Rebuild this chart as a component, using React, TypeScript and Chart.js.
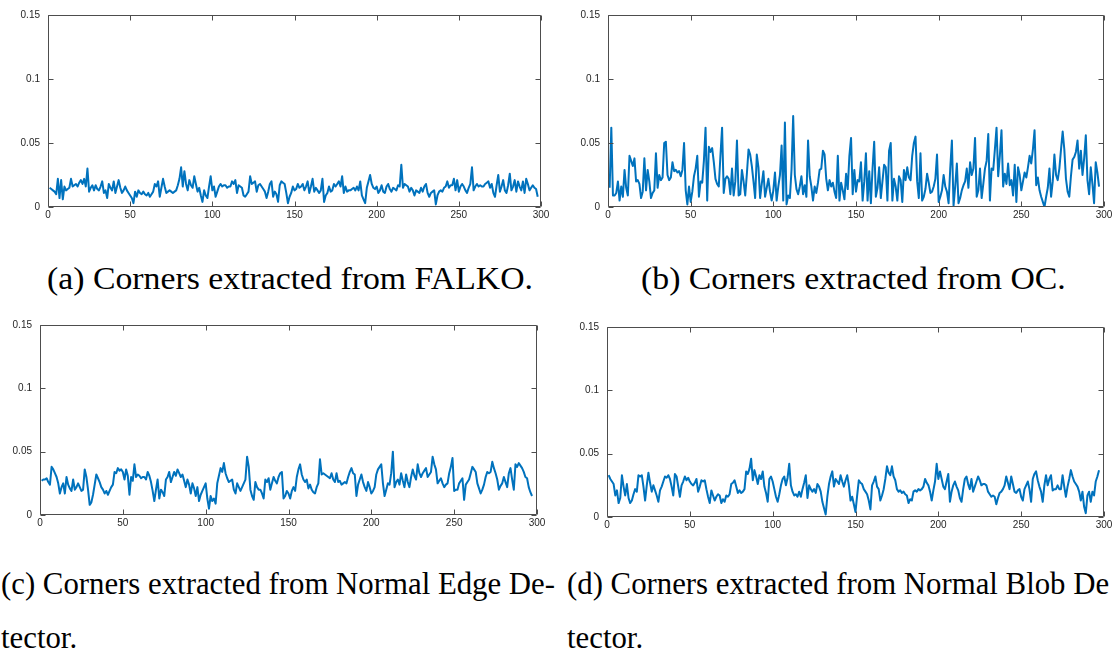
import React, { useEffect, useRef } from 'react';
import { Chart, registerables } from 'chart.js';

Chart.register(...registerables);

// ---------- data ----------
const falkoValues = [
  0.015,0.014,0.013,0.012,0.010,0.022,0.007,0.021,0.006,0.016,
  0.013,0.014,0.015,0.022,0.016,0.017,0.018,0.016,0.019,0.021,
  0.018,0.022,0.016,0.030,0.012,0.015,0.017,0.013,0.017,0.014,
  0.013,0.016,0.020,0.011,0.013,0.007,0.018,0.015,0.013,0.020,
  0.011,0.016,0.021,0.015,0.011,0.013,0.016,0.013,0.011,0.009,
  0.007,0.003,0.012,0.008,0.013,0.011,0.010,0.012,0.010,0.009,
  0.011,0.008,0.010,0.012,0.018,0.016,0.020,0.008,0.015,0.022,
  0.016,0.011,0.012,0.013,0.012,0.011,0.012,0.013,0.017,0.022,
  0.031,0.016,0.028,0.018,0.013,0.021,0.017,0.015,0.024,0.018,
  0.012,0.015,0.009,0.004,0.013,0.009,0.007,0.016,0.024,0.013,
  0.016,0.008,0.012,0.016,0.018,0.016,0.017,0.017,0.015,0.016,
  0.016,0.020,0.018,0.021,0.011,0.017,0.016,0.015,0.009,0.008,
  0.010,0.012,0.024,0.018,0.019,0.020,0.012,0.017,0.018,0.016,
  0.014,0.012,0.007,0.012,0.018,0.020,0.008,0.012,0.010,0.004,
  0.017,0.020,0.019,0.018,0.011,0.003,0.008,0.011,0.016,0.013,
  0.014,0.018,0.015,0.016,0.018,0.013,0.016,0.020,0.011,0.016,
  0.022,0.012,0.015,0.013,0.011,0.013,0.022,0.004,0.009,0.011,
  0.016,0.012,0.013,0.018,0.016,0.018,0.020,0.016,0.024,0.011,
  0.016,0.012,0.013,0.013,0.014,0.015,0.013,0.016,0.013,0.020,
  0.009,0.006,0.003,0.015,0.020,0.025,0.018,0.015,0.014,0.016,
  0.011,0.013,0.017,0.012,0.011,0.016,0.018,0.014,0.012,0.015,
  0.014,0.013,0.017,0.016,0.033,0.015,0.018,0.017,0.016,0.012,
  0.015,0.013,0.009,0.013,0.012,0.011,0.015,0.012,0.016,0.018,
  0.011,0.008,0.011,0.012,0.013,0.002,0.009,0.012,0.013,0.012,
  0.015,0.016,0.020,0.015,0.017,0.017,0.022,0.013,0.021,0.012,
  0.016,0.018,0.016,0.013,0.011,0.015,0.018,0.031,0.013,0.016,
  0.018,0.016,0.017,0.016,0.016,0.018,0.019,0.020,0.015,0.018,
  0.011,0.008,0.017,0.025,0.012,0.016,0.021,0.013,0.011,0.017,
  0.026,0.013,0.016,0.021,0.012,0.020,0.016,0.013,0.020,0.011,
  0.022,0.018,0.013,0.015,0.017,0.015,0.014,0.008,
];

const ocValues = [
  0.015,0.062,0.009,0.009,0.011,0.020,0.005,0.016,0.008,0.029,
  0.015,0.009,0.040,0.036,0.032,0.038,0.020,0.021,0.018,0.007,
  0.012,0.038,0.013,0.029,0.020,0.007,0.011,0.013,0.042,0.015,
  0.025,0.021,0.023,0.050,0.051,0.025,0.021,0.023,0.035,0.028,
  0.029,0.027,0.028,0.024,0.029,0.050,0.013,0.002,0.016,0.004,
  0.012,0.024,0.030,0.040,0.008,0.020,0.019,0.036,0.062,0.005,
  0.047,0.043,0.046,0.035,0.022,0.018,0.016,0.040,0.062,0.011,
  0.022,0.024,0.022,0.010,0.030,0.009,0.020,0.052,0.009,0.010,
  0.029,0.020,0.009,0.026,0.045,0.041,0.032,0.020,0.007,0.041,
  0.031,0.007,0.018,0.028,0.008,0.015,0.022,0.012,0.005,0.013,
  0.027,0.005,0.016,0.025,0.048,0.005,0.066,0.002,0.009,0.007,
  0.029,0.071,0.025,0.014,0.010,0.016,0.024,0.010,0.017,0.008,
  0.052,0.024,0.016,0.005,0.016,0.011,0.019,0.029,0.030,0.044,
  0.041,0.022,0.013,0.021,0.016,0.019,0.012,0.007,0.040,0.005,
  0.019,0.013,0.006,0.026,0.014,0.040,0.054,0.010,0.029,0.012,
  0.021,0.020,0.035,0.005,0.020,0.042,0.005,0.028,0.003,0.030,
  0.051,0.008,0.015,0.031,0.007,0.020,0.033,0.031,0.005,0.044,
  0.050,0.005,0.022,0.016,0.005,0.024,0.021,0.004,0.029,0.021,
  0.031,0.023,0.021,0.040,0.050,0.055,0.020,0.007,0.042,0.005,
  0.008,0.014,0.026,0.019,0.011,0.012,0.016,0.022,0.041,0.004,
  0.008,0.013,0.025,0.016,0.012,0.003,0.030,0.052,0.001,0.016,
  0.034,0.003,0.007,0.013,0.017,0.020,0.030,0.015,0.035,0.025,
  0.030,0.054,0.008,0.013,0.030,0.007,0.018,0.030,0.036,0.057,
  0.005,0.030,0.029,0.045,0.062,0.024,0.040,0.060,0.016,0.026,
  0.018,0.034,0.017,0.021,0.009,0.033,0.004,0.031,0.025,0.013,
  0.020,0.027,0.023,0.031,0.040,0.034,0.045,0.060,0.017,0.023,
  0.013,0.008,0.004,0.000,0.008,0.015,0.030,0.008,0.020,0.041,
  0.025,0.021,0.030,0.045,0.059,0.045,0.022,0.012,0.008,0.024,
  0.037,0.039,0.043,0.052,0.030,0.044,0.025,0.038,0.056,0.021,
  0.010,0.031,0.018,0.003,0.035,0.027,0.016,
];

const edgeValues = [
  0.027,0.028,0.028,0.029,0.026,0.024,0.038,0.036,0.033,0.030,
  0.025,0.017,0.022,0.025,0.017,0.030,0.024,0.021,0.019,0.028,
  0.020,0.022,0.025,0.022,0.019,0.020,0.036,0.030,0.020,0.008,
  0.010,0.016,0.024,0.032,0.029,0.026,0.022,0.020,0.017,0.019,
  0.016,0.019,0.022,0.024,0.034,0.033,0.037,0.035,0.036,0.034,
  0.028,0.036,0.031,0.016,0.030,0.027,0.040,0.030,0.032,0.031,
  0.029,0.030,0.030,0.028,0.034,0.031,0.026,0.019,0.011,0.020,
  0.028,0.013,0.020,0.018,0.015,0.028,0.030,0.034,0.026,0.030,
  0.034,0.031,0.036,0.033,0.030,0.032,0.027,0.022,0.028,0.024,
  0.017,0.025,0.021,0.015,0.022,0.011,0.016,0.019,0.022,0.025,
  0.013,0.005,0.015,0.011,0.013,0.009,0.025,0.031,0.037,0.034,
  0.041,0.033,0.029,0.026,0.027,0.028,0.020,0.017,0.025,0.022,
  0.019,0.022,0.025,0.028,0.046,0.038,0.020,0.015,0.012,0.026,
  0.022,0.020,0.020,0.017,0.013,0.028,0.026,0.029,0.020,0.025,
  0.030,0.027,0.025,0.030,0.033,0.034,0.013,0.015,0.019,0.017,
  0.013,0.019,0.022,0.019,0.030,0.036,0.040,0.032,0.028,0.026,
  0.028,0.021,0.024,0.020,0.018,0.017,0.022,0.025,0.044,0.032,
  0.033,0.032,0.031,0.030,0.029,0.033,0.028,0.026,0.033,0.026,
  0.027,0.024,0.025,0.026,0.025,0.030,0.034,0.037,0.033,0.032,
  0.015,0.024,0.028,0.032,0.026,0.022,0.019,0.026,0.022,0.017,
  0.019,0.022,0.032,0.036,0.038,0.040,0.025,0.015,0.020,0.025,
  0.024,0.033,0.050,0.022,0.026,0.028,0.024,0.033,0.027,0.022,
  0.032,0.026,0.022,0.030,0.036,0.031,0.028,0.040,0.033,0.030,
  0.033,0.035,0.037,0.030,0.032,0.034,0.046,0.040,0.036,0.025,
  0.027,0.029,0.025,0.022,0.024,0.025,0.033,0.038,0.045,0.019,
  0.020,0.020,0.025,0.027,0.029,0.012,0.024,0.026,0.028,0.033,
  0.038,0.036,0.034,0.025,0.021,0.017,0.020,0.024,0.030,0.034,
  0.033,0.034,0.042,0.037,0.033,0.028,0.020,0.023,0.025,0.030,
  0.026,0.022,0.033,0.037,0.028,0.020,0.040,0.038,0.041,0.039,
  0.037,0.034,0.030,0.029,0.022,0.018,0.015,
];

const blobValues = [
  0.033,0.030,0.028,0.026,0.017,0.021,0.011,0.015,0.033,0.024,
  0.017,0.026,0.015,0.011,0.013,0.018,0.022,0.020,0.033,0.032,
  0.033,0.024,0.013,0.025,0.035,0.027,0.020,0.025,0.021,0.017,
  0.012,0.021,0.024,0.028,0.032,0.031,0.033,0.030,0.024,0.017,
  0.034,0.032,0.024,0.016,0.025,0.028,0.032,0.029,0.031,0.028,
  0.026,0.025,0.027,0.030,0.020,0.024,0.029,0.028,0.029,0.022,
  0.016,0.011,0.021,0.017,0.013,0.016,0.018,0.017,0.011,0.014,
  0.012,0.017,0.016,0.018,0.026,0.027,0.029,0.024,0.019,0.021,
  0.019,0.020,0.022,0.036,0.034,0.038,0.046,0.029,0.037,0.032,
  0.026,0.033,0.030,0.036,0.024,0.019,0.012,0.030,0.032,0.028,
  0.022,0.016,0.012,0.018,0.025,0.030,0.032,0.025,0.031,0.042,
  0.025,0.020,0.017,0.018,0.016,0.020,0.016,0.022,0.027,0.033,
  0.015,0.025,0.022,0.020,0.022,0.019,0.026,0.024,0.020,0.012,
  0.007,0.002,0.016,0.026,0.032,0.036,0.024,0.030,0.028,0.026,
  0.033,0.028,0.024,0.029,0.033,0.025,0.013,0.016,0.010,0.004,
  0.017,0.029,0.027,0.026,0.022,0.020,0.018,0.013,0.006,0.025,
  0.028,0.032,0.024,0.022,0.013,0.017,0.022,0.030,0.040,0.035,
  0.033,0.040,0.032,0.029,0.022,0.020,0.021,0.019,0.020,0.018,
  0.017,0.011,0.014,0.013,0.020,0.021,0.020,0.022,0.021,0.022,
  0.024,0.030,0.027,0.025,0.020,0.013,0.021,0.028,0.042,0.030,
  0.036,0.030,0.024,0.022,0.028,0.034,0.012,0.020,0.025,0.028,
  0.024,0.021,0.015,0.012,0.022,0.030,0.032,0.026,0.022,0.030,
  0.020,0.024,0.028,0.032,0.029,0.025,0.026,0.026,0.025,0.020,
  0.018,0.016,0.017,0.016,0.010,0.015,0.019,0.020,0.022,0.025,
  0.032,0.027,0.022,0.032,0.026,0.020,0.019,0.021,0.022,0.016,
  0.013,0.022,0.025,0.028,0.022,0.012,0.030,0.034,0.036,0.029,
  0.024,0.020,0.012,0.025,0.033,0.025,0.030,0.033,0.021,0.022,
  0.022,0.025,0.022,0.022,0.033,0.024,0.016,0.024,0.030,0.037,
  0.032,0.028,0.026,0.024,0.020,0.013,0.020,0.008,0.003,0.017,
  0.020,0.012,0.020,0.017,0.028,0.032,0.037,
];

const xTicks = [0, 50, 100, 150, 200, 250, 300];
const yTicks = [0, 0.05, 0.1, 0.15];
const yTickLabels = ['0', '0.05', '0.1', '0.15'];

const captionA = '(a) Corners extracted from FALKO.';
const captionB = '(b) Corners extracted from OC.';
const captionC1 = '(c) Corners extracted from Normal Edge De-';
const captionD1 = '(d) Corners extracted from Normal Blob De';
const captionWrap = 'tector.';

// ---------- styling ----------
const LINE_COLOR = '#0072BD';
const AXIS_COLOR = '#4d4d4d';
const LABEL_COLOR = '#262626';
const TICK_LEN = 5;
const CAPTION_SIZE = 31;
const CAPTION_FONT = `${CAPTION_SIZE}px "Liberation Serif", "Times New Roman", serif`;

const boxPlugin = {
  id: 'matlabBox',
  afterDatasetsDraw(chart: any) {
    const { ctx, chartArea: a } = chart;
    const xs = chart.scales.x;
    const ys = chart.scales.y;
    const L = Math.round(a.left) + 0.5;
    const R = Math.round(a.right) - 0.5;
    const T = Math.round(a.top) + 0.5;
    const B = Math.round(a.bottom) - 0.5;
    ctx.save();
    ctx.strokeStyle = AXIS_COLOR;
    ctx.lineWidth = 1;
    ctx.beginPath();
    ctx.rect(L, T, R - L, B - T);
    for (const t of xTicks) {
      const px = Math.round(xs.getPixelForValue(t)) + 0.5;
      ctx.moveTo(px, B);
      ctx.lineTo(px, B - TICK_LEN);
      ctx.moveTo(px, T);
      ctx.lineTo(px, T + TICK_LEN);
    }
    for (const t of yTicks) {
      const py = Math.round(ys.getPixelForValue(t)) + 0.5;
      ctx.moveTo(L, py);
      ctx.lineTo(L + TICK_LEN, py);
      ctx.moveTo(R, py);
      ctx.lineTo(R - TICK_LEN, py);
    }
    ctx.stroke();

    ctx.fillStyle = LABEL_COLOR;
    ctx.font = '10px "Liberation Sans", Arial, sans-serif';
    ctx.textAlign = 'center';
    ctx.textBaseline = 'top';
    for (const t of xTicks) {
      ctx.fillText(String(t), xs.getPixelForValue(t), B + 3.5);
    }
    ctx.textAlign = 'right';
    ctx.textBaseline = 'middle';
    yTicks.forEach((t, i) => {
      ctx.fillText(yTickLabels[i], L - 8.5, ys.getPixelForValue(t));
    });
    ctx.restore();
  },
};

type Box = { left: number; top: number; width: number; height: number };
type Plot = { left: number; top: number; right: number; bottom: number };

function Panel({ values, box, plot }: { values: number[]; box: Box; plot: Plot }) {
  const ref = useRef<HTMLCanvasElement>(null);
  useEffect(() => {
    const chart = new Chart(ref.current as HTMLCanvasElement, {
      type: 'line',
      data: {
        datasets: [
          {
            data: values.map((v, i) => ({ x: i + 1, y: v })),
            borderColor: LINE_COLOR,
            borderWidth: 2,
            pointRadius: 0,
            tension: 0,
            fill: false,
            borderJoinStyle: 'round',
          },
        ],
      },
      options: {
        animation: false,
        responsive: false,
        maintainAspectRatio: false,
        events: [],
        layout: {
          padding: {
            left: plot.left - box.left,
            top: plot.top - box.top,
            right: box.left + box.width - plot.right,
            bottom: box.top + box.height - plot.bottom,
          },
        },
        scales: {
          x: { type: 'linear', min: 0, max: 300, display: false },
          y: { type: 'linear', min: 0, max: 0.15, display: false },
        },
        plugins: { legend: { display: false }, tooltip: { enabled: false } },
      },
      plugins: [boxPlugin],
    } as any);
    return () => chart.destroy();
  }, []);
  return (
    <canvas
      ref={ref}
      width={box.width}
      height={box.height}
      style={{ position: 'absolute', left: box.left, top: box.top, width: box.width, height: box.height }}
    />
  );
}

let measureCtx: CanvasRenderingContext2D | null = null;
function measure(text: string): number {
  if (!measureCtx) measureCtx = document.createElement('canvas').getContext('2d');
  measureCtx!.font = CAPTION_FONT;
  return measureCtx!.measureText(text).width;
}

// horizontal scale factors so the serif captions span the widths seen in the reference
const scaleTop = 486 / measure(captionA);
const scaleBottom = 554 / measure(captionC1);

function Caption({ text, left, baseline, scale }: { text: string; left: number; baseline: number; scale: number }) {
  return (
    <div
      style={{
        position: 'absolute',
        left,
        top: baseline - 26,
        fontFamily: '"Liberation Serif", "Times New Roman", serif',
        fontSize: CAPTION_SIZE,
        lineHeight: `${CAPTION_SIZE}px`,
        color: '#000',
        whiteSpace: 'nowrap',
        transform: `scaleX(${scale})`,
        transformOrigin: 'left top',
      }}
    >
      {text}
    </div>
  );
}

export default function App() {
  return (
    <div
      style={{
        position: 'fixed',
        left: 0,
        top: 0,
        width: 1112,
        height: 650,
        overflow: 'hidden',
        background: '#fff',
      }}
    >
      <Panel
        values={falkoValues}
        box={{ left: 0, top: 0, width: 556, height: 232 }}
        plot={{ left: 48, top: 15, right: 541, bottom: 207 }}
      />
      <Panel
        values={ocValues}
        box={{ left: 556, top: 0, width: 556, height: 232 }}
        plot={{ left: 608, top: 15, right: 1104, bottom: 207 }}
      />
      <Panel
        values={edgeValues}
        box={{ left: 0, top: 300, width: 556, height: 240 }}
        plot={{ left: 40, top: 325, right: 537, bottom: 515 }}
      />
      <Panel
        values={blobValues}
        box={{ left: 556, top: 300, width: 556, height: 240 }}
        plot={{ left: 607, top: 327, right: 1104, bottom: 517 }}
      />

      <Caption text={captionA} left={47} baseline={289} scale={scaleTop} />
      <Caption text={captionB} left={641} baseline={289} scale={scaleTop} />
      <Caption text={captionC1} left={1} baseline={594} scale={scaleBottom} />
      <Caption text={captionWrap} left={1} baseline={648} scale={scaleBottom} />
      <Caption text={captionD1} left={567} baseline={594} scale={scaleBottom} />
      <Caption text={captionWrap} left={567} baseline={648} scale={scaleBottom} />
    </div>
  );
}
